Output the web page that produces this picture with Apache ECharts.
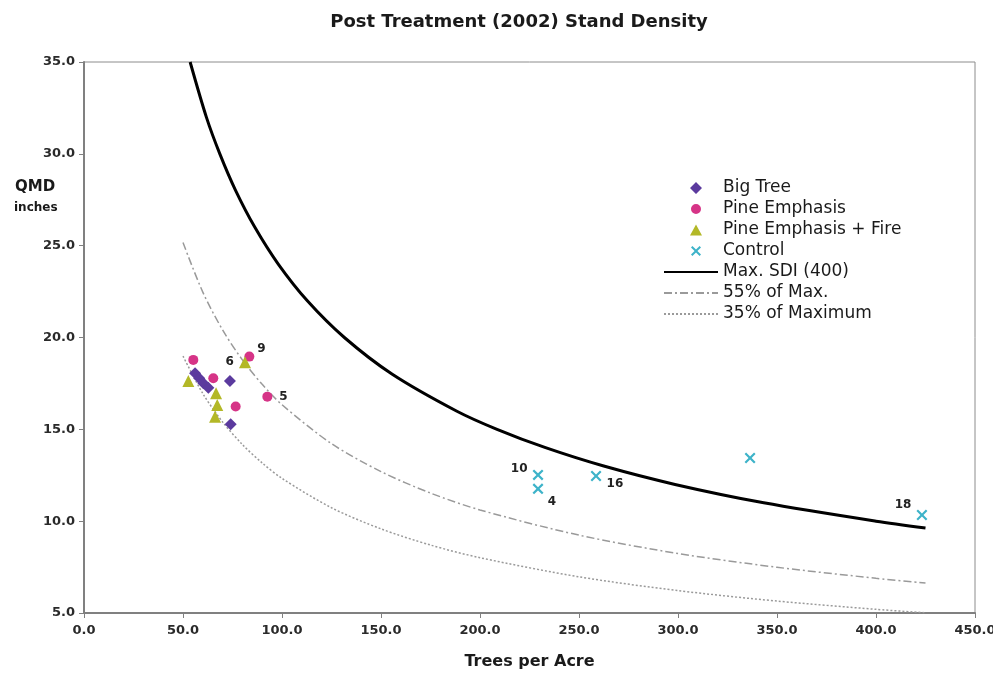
<!DOCTYPE html>
<html><head><meta charset="utf-8">
<script src="https://cdn.jsdelivr.net/npm/echarts@6/dist/echarts.min.js"></script>
<style>html,body{margin:0;padding:0;background:#fff}#c{width:993px;height:677px}</style>
</head><body><div id="c"></div>
<script>
// ---- data ----
var bigTreeX = [56.1, 58.2, 60.3, 62.8, 73.7, 74.1];
var bigTreeY = [18.05, 17.78, 17.51, 17.27, 17.63, 15.28];
var pineX = [55.2, 65.3, 83.5, 92.6, 76.6];
var pineY = [18.78, 17.78, 18.96, 16.78, 16.24];
var pineLbl = ['', '', '9', '5', ''];
var fireX = [52.7, 66.7, 67.3, 66.2, 81.3];
var fireY = [17.63, 16.96, 16.33, 15.69, 18.65];
var fireLbl = ['', '', '', '', '6'];
var ctrlX = [229.3, 229.3, 258.6, 336.4, 423.2];
var ctrlY = [12.52, 11.76, 12.46, 13.44, 10.34];
var ctrlLbl = ['10', '4', '16', '', '18'];
var maxSdiX = [53.6, 61.8, 68.6, 76.6, 86.3, 98.1, 112.8, 131.5, 155.7, 188.1, 208.6, 233.1, 262.5, 298.5, 343.3, 400, 425];
var maxSdiY = [35, 32, 30, 28, 26, 24, 22, 20, 18, 16, 15, 14, 13, 12, 11, 10, 9.63];
var refX = [50, 60, 70, 80, 90, 100, 125, 150, 175, 200, 250, 300, 350, 400, 425];
var p55Y = [25.17, 22.47, 20.41, 18.78, 17.45, 16.34, 14.22, 12.70, 11.53, 10.61, 9.24, 8.24, 7.49, 6.89, 6.63];
var p35Y = [18.99, 16.95, 15.40, 14.17, 13.17, 12.33, 10.73, 9.58, 8.70, 8.01, 6.97, 6.22, 5.65, 5.20, 5.01];
var xTicks = [0, 50, 100, 150, 200, 250, 300, 350, 400, 450];
var yTicks = [5, 10, 15, 20, 25, 30, 35];

function zip(xs, ys) { return xs.map(function (x, i) { return [x, ys[i]]; }); }
var labelPos = { '9': 'right', '6': 'left', '5': 'right', '10': 'left', '4': 'bottom', '16': 'right', '18': 'left' };
var labelOff = { '9': [-2, -8], '6': [0, 0], '5': [2, 0], '10': [0, -6], '4': [14, -3], '16': [0, 8], '18': [0, -10] };
var font = 'DejaVu Sans, Verdana, sans-serif';
function labelled(xs, ys, lbls) {
  return xs.map(function (x, i) {
    var l = lbls[i];
    var d = { value: [x, ys[i]] };
    if (l) d.label = { show: true, formatter: l, position: labelPos[l], offset: labelOff[l],
      color: '#222', fontWeight: 'bold', fontSize: 12, fontFamily: font };
    return d;
  });
}
var xPath = 'path://M0,1.4 L1.4,0 L5,3.6 L8.6,0 L10,1.4 L6.4,5 L10,8.6 L8.6,10 L5,6.4 L1.4,10 L0,8.6 L3.6,5 Z';
// legend icons framed in a 54x12 box so they keep their shape
var lgDiamond = 'path://M0,0 L0,0.01 Z M54,12 L54,11.99 Z M32,0 L38,6 L32,12 L26,6 Z';
var lgTriangle = 'path://M0,0 L0,0.01 Z M54,12 L54,11.99 Z M32,0.5 L38,11.5 L26,11.5 Z';
var lgCircle = 'path://M0,0 L0,0.01 Z M54,12 L54,11.99 Z M37,6 A5,5 0 1 1 27,6 A5,5 0 1 1 37,6 Z';
var lgCross = 'path://M0,0 L0,0.01 Z M54,12 L54,11.99 Z M27,2.4 L28.4,1 L32,4.6 L35.6,1 L37,2.4 L33.4,6 L37,9.6 L35.6,11 L32,7.4 L28.4,11 L27,9.6 L30.6,6 Z';
var hideSym = { opacity: 0 };

var chart = echarts.init(document.getElementById('c'), null, { renderer: 'canvas' });
chart.setOption({
  backgroundColor: '#fff',
  animation: false,
  title: {
    text: 'Post Treatment (2002) Stand Density', left: 514, top: 8, textAlign: 'center',
    textStyle: { fontFamily: font, fontWeight: 'bold', fontSize: 18, color: '#1a1a1a' }
  },
  grid: { left: 84, right: 18, top: 62, bottom: 64, show: true, borderColor: '#8c8c8c', borderWidth: 1,
    containLabel: false, outerBoundsMode: 'none' },
  xAxis: {
    type: 'value', min: 0, max: 450, interval: 50,
    name: 'Trees per Acre', nameLocation: 'middle', nameGap: 41,
    nameTextStyle: { fontFamily: font, fontWeight: 'bold', fontSize: 16, color: '#1a1a1a' },
    axisLine: { lineStyle: { color: '#808080', width: 2 } },
    axisTick: { show: true, length: 5, lineStyle: { color: '#808080' } },
    axisLabel: { formatter: function (v) { return v.toFixed(1); }, fontFamily: font, fontWeight: 'bold', fontSize: 13, color: '#2a2a2a', margin: 11 },
    splitLine: { show: false }
  },
  yAxis: {
    type: 'value', min: 5, max: 35, interval: 5,
    axisLine: { show: true, lineStyle: { color: '#808080', width: 2 } },
    axisTick: { show: true, length: 5, lineStyle: { color: '#808080' } },
    axisLabel: { formatter: function (v) { return v.toFixed(1); }, fontFamily: font, fontWeight: 'bold', fontSize: 13, color: '#2a2a2a', margin: 9 },
    splitLine: { show: false }
  },
  graphic: [
    { type: 'text', left: 15, top: 180, style: { text: 'QMD', font: 'bold 15px ' + font, fill: '#1a1a1a' } },
    { type: 'text', left: 14, top: 202, style: { text: 'inches', font: 'bold 12px ' + font, fill: '#1a1a1a' } }
  ],
  legend: {
    orient: 'vertical', left: 658, top: 174, itemWidth: 54, itemHeight: 12, itemGap: 3,
    textStyle: { fontFamily: font, fontSize: 17, color: '#1a1a1a', lineHeight: 18 },
    data: [
      { name: 'Big Tree', icon: lgDiamond },
      { name: 'Pine Emphasis', icon: lgCircle },
      { name: 'Pine Emphasis + Fire', icon: lgTriangle },
      { name: 'Control', icon: lgCross },
      { name: 'Max. SDI (400)', itemStyle: hideSym },
      { name: '55% of Max.', itemStyle: hideSym },
      { name: '35% of Maximum', itemStyle: hideSym }]
  },
  series: [
    { name: 'Max. SDI (400)', type: 'line', data: zip(maxSdiX, maxSdiY), symbol: 'none', smooth: 0.3,
      lineStyle: { color: '#000', width: 3 }, itemStyle: { color: '#000' }, z: 2 },
    { name: '55% of Max.', type: 'line', data: zip(refX, p55Y), symbol: 'none', smooth: 0.3,
      lineStyle: { color: '#9a9a9a', width: 1.5, type: [8, 3, 2, 3] }, itemStyle: { color: '#9a9a9a' }, z: 2 },
    { name: '35% of Maximum', type: 'line', data: zip(refX, p35Y), symbol: 'none', smooth: 0.3,
      lineStyle: { color: '#9a9a9a', width: 1.5, type: [2, 2] }, itemStyle: { color: '#9a9a9a' }, z: 2 },
    { name: 'Big Tree', type: 'scatter', symbol: 'diamond', symbolSize: 12, data: zip(bigTreeX, bigTreeY),
      itemStyle: { color: '#5b3a9e', opacity: 1 }, z: 5 },
    { name: 'Pine Emphasis', type: 'scatter', symbol: 'circle', symbolSize: 10, data: labelled(pineX, pineY, pineLbl),
      itemStyle: { color: '#d63487', opacity: 1 }, z: 5 },
    { name: 'Pine Emphasis + Fire', type: 'scatter', symbol: 'triangle', symbolSize: 12, data: labelled(fireX, fireY, fireLbl),
      itemStyle: { color: '#b3b827', opacity: 1 }, z: 5 },
    { name: 'Control', type: 'scatter', symbol: xPath, symbolSize: 11, data: labelled(ctrlX, ctrlY, ctrlLbl),
      itemStyle: { color: '#3db3c9', opacity: 1 }, z: 5 }
  ]
});
</script></body></html>
